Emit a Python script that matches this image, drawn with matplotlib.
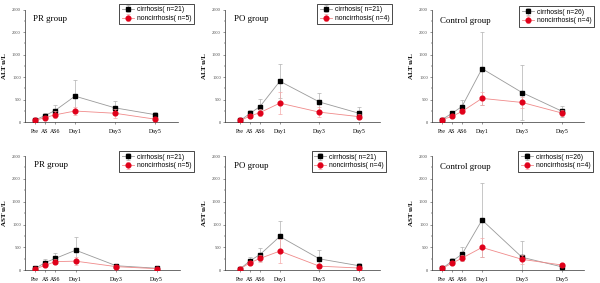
import matplotlib
matplotlib.use('Agg')
from matplotlib import pyplot as plt
import numpy as np

# time points (x positions are in day-like units, AS6 = 0)
labels = ['Pre', 'AS', 'AS6', 'Day1', 'Day3', 'Day5']
xpos = [-1, -0.5, 0, 1, 3, 5]

titles = ['PR group', 'PO group', 'Control group']
n_cir = [21, 21, 26]
n_non = [5, 4, 4]

# ALT u/L
alt_pr_cir = [50, 150, 260, 580, 320, 170]
alt_pr_cir_err = [20, 65, 130, 360, 160, 55]
alt_pr_non = [40, 105, 165, 250, 200, 70]
alt_pr_non_err = [15, 40, 80, 90, 100, 40]

alt_po_cir = [40, 200, 350, 910, 450, 200]
alt_po_cir_err = [15, 70, 160, 380, 210, 130]
alt_po_non = [40, 140, 215, 425, 225, 125]
alt_po_non_err = [15, 40, 80, 240, 110, 50]

alt_ct_cir = [60, 200, 350, 1190, 660, 245]
alt_ct_cir_err = [20, 60, 140, 810, 600, 120]
alt_ct_non = [60, 130, 240, 530, 440, 205]
alt_ct_non_err = [20, 40, 60, 150, 120, 70]

# AST u/L
ast_pr_cir = [40, 170, 260, 440, 100, 45]
ast_pr_cir_err = [15, 80, 120, 280, 40, 20]
ast_pr_non = [30, 110, 190, 200, 80, 35]
ast_pr_non_err = [10, 40, 60, 80, 30, 15]

ast_po_cir = [35, 210, 345, 740, 250, 100]
ast_po_cir_err = [10, 90, 150, 330, 190, 50]
ast_po_non = [35, 165, 260, 420, 90, 50]
ast_po_non_err = [10, 40, 80, 260, 50, 20]

ast_ct_cir = [40, 200, 350, 1100, 285, 75]
ast_ct_cir_err = [15, 60, 150, 800, 350, 30]
ast_ct_non = [40, 155, 265, 500, 240, 115]
ast_ct_non_err = [15, 40, 60, 200, 100, 40]

panels = [
    ('ALT u/L', alt_pr_cir, alt_pr_cir_err, alt_pr_non, alt_pr_non_err),
    ('ALT u/L', alt_po_cir, alt_po_cir_err, alt_po_non, alt_po_non_err),
    ('ALT u/L', alt_ct_cir, alt_ct_cir_err, alt_ct_non, alt_ct_non_err),
    ('AST u/L', ast_pr_cir, ast_pr_cir_err, ast_pr_non, ast_pr_non_err),
    ('AST u/L', ast_po_cir, ast_po_cir_err, ast_po_non, ast_po_non_err),
    ('AST u/L', ast_ct_cir, ast_ct_cir_err, ast_ct_non, ast_ct_non_err),
]

W, H = 600., 283.
# axes boxes in pixels: left, right, top, bottom
boxes = [(25, 178, 9.5, 122.3), (225, 380, 9.5, 122.3), (432, 584, 9.5, 122.3),
         (25, 180, 156, 270.3), (225, 380, 156, 270.3), (432, 584, 156, 270.3)]
xlims = [(-1.5, 6.15), (-1.77, 6.06), (-1.5, 6.1)]
leg_anchor = [(1.124, 1.08), (1.097, 1.08), (1.085, 1.06),
              (1.11, 1.07), (1.06, 1.07), (1.08, 1.07)]
title_y = [0.92, 0.92, 0.90, 0.92, 0.91, 0.90]

fig = plt.figure(figsize=(6, 2.83), dpi=100)
for i, (ylab, cir, cerr, non, nerr) in enumerate(panels):
    l, r, t, b = boxes[i]
    ax = fig.add_axes([l / W, 1 - b / H, (r - l) / W, (b - t) / H])
    col = i % 3
    ax.errorbar(xpos, cir, yerr=cerr, color='#9a9a9a', lw=0.6, marker='s', ms=3.4,
                mfc='black', mec='black', ecolor='#b0b0b0', elinewidth=0.5,
                capsize=1.2, capthick=0.5,
                label='cirrhosis( n=%d)' % n_cir[col], zorder=3)
    ax.errorbar(xpos, non, yerr=nerr, color='#f08a8a', lw=0.6, marker='o', ms=3.4,
                mfc='#e0001a', mec='#e0001a', ecolor='#f4a8a8', elinewidth=0.5,
                capsize=1.2, capthick=0.5,
                label='noncirrhosis( n=%d)' % n_non[col], zorder=4)
    ax.set_xlim(xlims[col])
    ax.set_ylim(0, 2500)
    ax.set_yticks([0, 500, 1000, 1500, 2000, 2500])
    ax.set_yticks(np.arange(250, 2500, 500), minor=True)
    ax.set_xticks(xpos)
    ax.set_xticklabels(labels, family='Liberation Serif', fontsize=4.2)
    for tl in ax.get_yticklabels():
        tl.set_family('Liberation Serif')
        tl.set_fontsize(3.2)
        tl.set_color('#555555')
    ax.tick_params(axis='both', length=1.5, width=0.4, pad=1.5, colors='#444444')
    ax.tick_params(axis='x', labelcolor='black', pad=3)
    ax.tick_params(axis='y', which='minor', length=0.8, width=0.3)
    for s in ['top', 'right']:
        ax.spines[s].set_visible(False)
    for s in ['left', 'bottom']:
        ax.spines[s].set_linewidth(0.5)
        ax.spines[s].set_color('#333333')
    ax.set_ylabel(ylab, family='Liberation Serif', fontweight='bold', fontsize=5)
    ax.yaxis.set_label_coords(-0.118, 0.5)
    ax.text(0.055, title_y[i], titles[col], transform=ax.transAxes,
            family='Liberation Serif', fontsize=6.4, va='center', ha='left')
    leg = ax.legend(loc='upper right', bbox_to_anchor=leg_anchor[i],
                    prop={'family': 'Liberation Sans', 'size': 4.9},
                    frameon=True, fancybox=False, framealpha=1,
                    edgecolor='black', handlelength=1.8, borderpad=0.35,
                    labelspacing=0.25, handletextpad=0.4)
    leg.get_frame().set_linewidth(0.5)

plt.savefig('out.png', dpi=100)
plt.close()
